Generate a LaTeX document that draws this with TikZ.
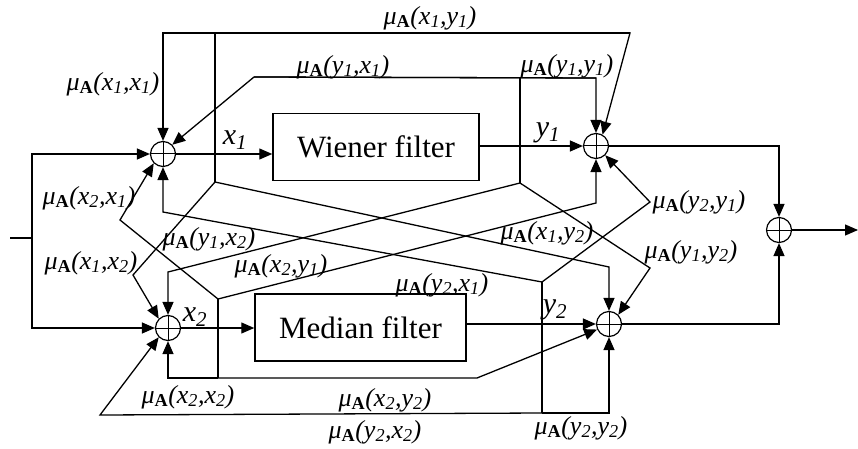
\documentclass[tikz,border=0pt]{standalone}
\usepackage{fontspec}
\setmainfont{Liberation Serif}
\usepackage{tikz}
\usetikzlibrary{arrows.meta,positioning,calc}

\newcommand{\memb}[4]{μ\textsubscript{\upshape\bfseries A}(#1\textsubscript{#2},#3\textsubscript{#4})}

\begin{document}
\begin{tikzpicture}[x=1pt,y=-1pt,
  conn/.style={line width=1.3pt},
  arr/.style={conn,-{Triangle[length=13pt,width=11pt]}},
  adder/.style={circle,draw,line width=1.2pt,minimum size=25pt,inner sep=0pt,
                path picture={\draw[line width=1pt]
                  (path picture bounding box.north) -- (path picture bounding box.south)
                  (path picture bounding box.west) -- (path picture bounding box.east);}},
  filt/.style={draw,line width=1.5pt,minimum height=67pt,inner sep=0pt,
               font=\fontsize{31}{33}\selectfont},
  lbl/.style={font=\fontsize{26}{28}\selectfont\itshape,inner sep=0pt},
  sig/.style={font=\fontsize{30}{32}\selectfont\itshape,inner sep=0pt}]
\useasboundingbox (0,0) rectangle (858,449);

% adders and filters
\node[adder] (sx1) at (163,154) {};
\node[adder] (sy1) at (596,146) {};
\node[adder] (sx2) at (168,328) {};
\node[adder] (sy2) at (609,324) {};
\node[adder] (sout) at (779,230) {};
\node[filt,minimum width=206pt] (wiener) at (376,147) {Wiener filter};
\node[filt,minimum width=211pt] (median) at (360.5,327.5) {Median filter};

% input and output
\coordinate (in) at (10,238);
\coordinate (split) at (32,238);
\coordinate (out) at (858,230);
\draw[conn] (in) -- (split);
\draw[arr] (split) |- (sx1);
\draw[arr] (split) |- (sx2);
\draw[arr] (sx1) -- (sx1 -| wiener.west);
\draw[arr] (sx2) -- (sx2 -| median.west);
\draw[arr] (wiener.east |- sy1) -- (sy1);
\draw[arr] (median.east |- sy2) -- (sy2);
\draw[arr] (sy1) -| (sout);
\draw[arr] (sy2) -| (sout);
\draw[arr] (sout) -- (out);

% taps
\coordinate (tx1t) at (215,33);  \coordinate (tx1b) at (215,182);
\coordinate (ty1t) at (520,78);  \coordinate (ty1b) at (520,183);
\coordinate (tx2t) at (218,299); \coordinate (tx2b) at (218,378);
\coordinate (ty2t) at (542,282); \coordinate (ty2b) at (542,413);
\draw[conn] (tx1t) -- (tx1b);
\draw[conn] (ty1t) -- (ty1b);
\draw[conn] (tx2t) -- (tx2b);
\draw[conn] (ty2t) -- (ty2b);

% weights
\coordinate (cx1x1) at (163,33);
\coordinate (cx1y1) at (630,33);
\coordinate (cy1x1) at (254,77);
\coordinate (cy1y1) at (596,78);
\coordinate (cx2x1) at (120,220);
\coordinate (cy2x1) at (163,212);
\coordinate (cx1x2) at (133,275);
\coordinate (cy1x2) at (168,272);
\coordinate (cx2y1) at (596,203);
\coordinate (cy2y1) at (650,202);
\coordinate (cx1y2) at (609,267);
\coordinate (cy1y2) at (650,268);
\coordinate (cx2x2) at (168,378);
\coordinate (cy2x2) at (100,415);
\coordinate (cx2y2) at (477,378);
\coordinate (cy2y2) at (609,413);

\draw[arr] (cx1y1) -- (cx1x1) -- (sx1);
\draw[arr] (cx1x1) -- (cx1y1) -- (sy1.60);
\draw[arr] (cy1y1) -- (cy1x1) -- (sx1.45);
\draw[arr] (cy1x1) -- (cy1y1) -- (sy1);
\draw[arr] (tx2t) -- (cx2x1) -- (sx1.225);
\draw[arr] (ty2t) -- (cy2x1) -- (sx1);
\draw[arr] (tx1b) -- (cx1x2) -- (sx2.135);
\draw[arr] (ty1b) -- (cy1x2) -- (sx2);
\draw[arr] (tx2t) -- (cx2y1) -- (sy1);
\draw[arr] (ty2t) -- (cy2y1) -- (sy1.315);
\draw[arr] (tx1b) -- (cx1y2) -- (sy2);
\draw[arr] (ty1b) -- (cy1y2) -- (sy2.45);
\draw[arr] (tx2b) -- (cx2x2) -- (sx2);
\draw[arr] (ty2b) -- (cy2x2) -- (sx2.225);
\draw[arr] (tx2b) -- (cx2y2) -- (sy2.205);
\draw[arr] (ty2b) -- (cy2y2) -- (sy2);

% labels
\node[sig] (lx1) at (235,140) {x\textsubscript{1}};
\node[sig] (ly1) at (548,133) {y\textsubscript{1}};
\node[sig] (lx2) at (195,317) {x\textsubscript{2}};
\node[sig] (ly2) at (555,310) {y\textsubscript{2}};
\node[lbl] (wx1y1) at (430,18) {\memb{x}{1}{y}{1}};
\node[lbl] (wx1x1) at (113,84) {\memb{x}{1}{x}{1}};
\node[lbl] (wy1x1) at (343,67) {\memb{y}{1}{x}{1}};
\node[lbl] (wy1y1) at (567,66) {\memb{y}{1}{y}{1}};
\node[lbl] (wx2x1) at (89,198) {\memb{x}{2}{x}{1}};
\node[lbl] (wy2y1) at (699,202) {\memb{y}{2}{y}{1}};
\node[lbl] (wy1x2) at (209,239) {\memb{y}{1}{x}{2}};
\node[lbl] (wx1x2) at (91,263) {\memb{x}{1}{x}{2}};
\node[lbl] (wx2y1) at (281,266) {\memb{x}{2}{y}{1}};
\node[lbl] (wx1y2) at (547,233) {\memb{x}{1}{y}{2}};
\node[lbl] (wy1y2) at (691,252) {\memb{y}{1}{y}{2}};
\node[lbl] (wy2x1) at (442,285) {\memb{y}{2}{x}{1}};
\node[lbl] (wx2x2) at (188,397) {\memb{x}{2}{x}{2}};
\node[lbl] (wx2y2) at (385,400) {\memb{x}{2}{y}{2}};
\node[lbl] (wy2x2) at (375,432) {\memb{y}{2}{x}{2}};
\node[lbl] (wy2y2) at (581,428) {\memb{y}{2}{y}{2}};
\end{tikzpicture}
\end{document}
